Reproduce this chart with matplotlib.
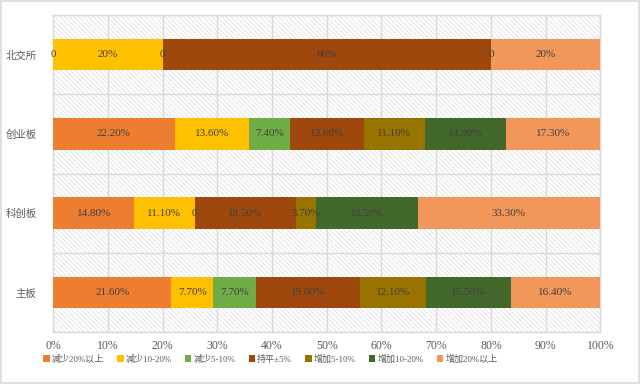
import matplotlib
matplotlib.use("Agg")
import matplotlib.pyplot as plt
import numpy as np
from matplotlib.patches import Rectangle

plt.rcParams['font.family'] = ['Liberation Serif', 'Noto Sans CJK SC']
plt.rcParams['hatch.linewidth'] = 0.45
plt.rcParams['hatch.color'] = '#d6d6d6'

categories = ['主板', '科创板', '创业板', '北交所']
series_names = ['减少20%以上', '减少10-20%', '减少5-10%', '持平±5%', '增加5-10%', '增加10-20%', '增加20%以上']
colors = ['#ED7D31', '#FFC000', '#70AD47', '#9E480E', '#997300', '#43682B', '#F1975A']
# values per category (percent), one list per series
s1 = [21.6, 14.8, 22.2, 0]
s2 = [7.7, 11.1, 13.6, 20]
s3 = [7.7, 0, 7.4, 0]
s4 = [19.0, 18.5, 13.6, 60]
s5 = [12.1, 3.7, 11.1, 0]
s6 = [15.5, 18.5, 14.8, np.nan]
s7 = [16.4, 33.3, 17.3, 20]
series = [s1, s2, s3, s4, s5, s6, s7]
label_decimals = [2, 2, 2, 0]
xticks = [0, 10, 20, 30, 40, 50, 60, 70, 80, 90, 100]

fig = plt.figure(figsize=(6.4, 3.84), dpi=100)
fig.patches.append(Rectangle((0.001, 0.002), 0.997, 0.996, transform=fig.transFigure,
                             fill=False, edgecolor='#d9d9d9', linewidth=1.2))
ax = fig.add_axes([0.083, 0.135, 0.855, 0.826])

ax.set_xlim(0, 100)
ax.set_ylim(-0.5, 3.5)
bg = Rectangle((0, 0), 1, 1, transform=ax.transAxes, facecolor='white',
               edgecolor='#d6d6d6', hatch='\\' * 7, linewidth=0, zorder=0)
ax.add_patch(bg)
ax.set_facecolor('white')

y = np.arange(len(categories))
left = np.zeros(len(categories))
txtc = '#404040'
for name, vals, col in zip(series_names, series, colors):
    v = np.array(vals, dtype=float)
    vv = np.nan_to_num(v)
    ax.barh(y, vv, left=left, height=0.4, color=col, label=name, zorder=3)
    for i in range(len(categories)):
        if np.isnan(v[i]):
            continue
        cx = left[i] + vv[i] / 2
        if v[i] == 0:
            s = '0'
        else:
            s = f'{v[i]:.{label_decimals[i]}f}%'
        ax.text(cx, y[i], s, ha='center', va='center', fontsize=8, color=txtc, zorder=5)
    left = left + vv

ax.set_xticks(xticks)
ax.set_xticklabels([f'{t}%' for t in xticks])
ax.set_yticks(y)
ax.set_yticklabels(categories)
ax.set_yticks(np.arange(-0.5, 3.6, 1), minor=True)
ax.grid(axis='x', which='major', color='#d9d9d9', linewidth=1.0, zorder=1)
ax.grid(axis='y', which='minor', color='#d9d9d9', linewidth=1.0, zorder=1)
ax.set_axisbelow(True)
ax.tick_params(axis='both', which='both', length=0, labelsize=8.5, labelcolor='#595959')
ax.tick_params(axis='y', labelsize=7.5, pad=12)
ax.tick_params(axis='x', pad=6)
for sp in ax.spines.values():
    sp.set_color('#d9d9d9')
    sp.set_linewidth(1.0)

leg = fig.legend(loc='center left', bbox_to_anchor=(0.062, 0.065), ncol=7, frameon=False,
                 fontsize=6.5, handlelength=0.7, handleheight=0.7, handletextpad=0.25,
                 columnspacing=1.45, labelcolor='#595959', borderaxespad=0)

fig.savefig('out.png', dpi=100)
